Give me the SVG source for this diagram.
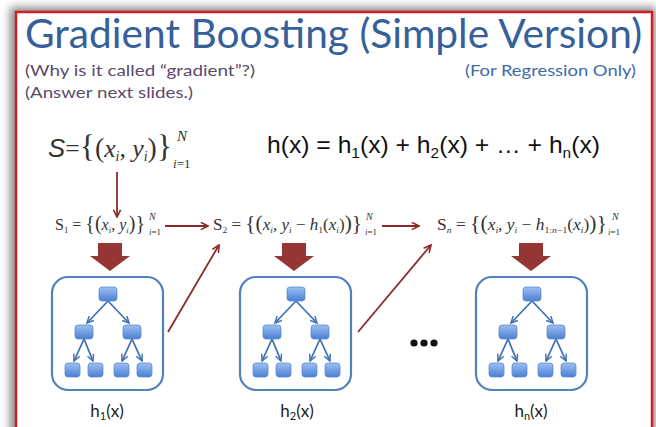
<svg xmlns="http://www.w3.org/2000/svg" xmlns:xlink="http://www.w3.org/1999/xlink" width="656" height="427" viewBox="0 0 656 427">
<defs>
<style>
.title{font-family:Lato,"Open Sans","Liberation Sans",sans-serif;fill:#36609a;}
.sub{font-family:Lato,"Open Sans","Liberation Sans",sans-serif;font-size:16px;}
.math{font-family:"Liberation Serif","DejaVu Serif",serif;fill:#333;}
.it{font-style:italic;}
.br{font-size:20px;}
.eq{font-family:"Liberation Sans",Arial,sans-serif;fill:#111;}
.lbl{font-family:Lato,"Open Sans","Liberation Sans",sans-serif;font-size:17px;fill:#222;text-anchor:middle;}
.red{stroke:#8c2a2a;stroke-width:1.8;fill:none;marker-end:url(#rh);}
.blk{fill:#943634;}
.box{fill:#fff;stroke:#4f81bd;stroke-width:2.2;}
.tn{fill:url(#ng);stroke:#5b8bd0;stroke-width:0.8;}
.te{stroke:#3f72b5;stroke-width:1.8;fill:none;marker-end:url(#bh);}
</style>
<linearGradient id="ng" x1="0" y1="0" x2="0" y2="1">
<stop offset="0" stop-color="#9dc0f0"/>
<stop offset="1" stop-color="#4a7fd6"/>
</linearGradient>
<marker id="rh" viewBox="0 0 10 10" refX="9" refY="5" markerWidth="5" markerHeight="5" orient="auto" markerUnits="strokeWidth">
<path d="M1,1 L9,5 L1,9" fill="none" stroke="#8c2a2a" stroke-width="1.8"/>
</marker>
<marker id="bh" viewBox="0 0 10 10" refX="9" refY="5" markerWidth="4.5" markerHeight="4.5" orient="auto" markerUnits="strokeWidth">
<path d="M1,1 L9,5 L1,9" fill="none" stroke="#3f72b5" stroke-width="1.8"/>
</marker>
<filter id="sh" x="-10%" y="-10%" width="120%" height="120%">
<feGaussianBlur stdDeviation="4"/>
</filter>
<g id="tree">
<rect class="box" x="0" y="0" width="111" height="113" rx="16"/>
<path class="te" d="M56,24 L35,46"/>
<path class="te" d="M56,24 L77,46"/>
<path class="te" d="M32,62 L22,84"/>
<path class="te" d="M32,62 L41,84"/>
<path class="te" d="M80,62 L70,84"/>
<path class="te" d="M80,62 L90,84"/>
<rect class="tn" x="47" y="10" width="18" height="14" rx="3"/>
<rect class="tn" x="23" y="48" width="18" height="14" rx="3"/>
<rect class="tn" x="71" y="48" width="18" height="14" rx="3"/>
<rect class="tn" x="13" y="86" width="15" height="14" rx="3"/>
<rect class="tn" x="36" y="86" width="15" height="14" rx="3"/>
<rect class="tn" x="62" y="86" width="15" height="14" rx="3"/>
<rect class="tn" x="85" y="86" width="15" height="14" rx="3"/>
</g>
</defs>

<rect x="0" y="0" width="656" height="427" fill="#fff"/>
<rect x="10" y="7" width="646" height="440" fill="#8a8a8a" filter="url(#sh)"/>
<rect x="16" y="12" width="636" height="430" fill="#fff" stroke="#d21f26" stroke-width="2.5"/>

<text class="title" x="25" y="48" font-size="41" textLength="617" lengthAdjust="spacingAndGlyphs">Gradient Boosting (Simple Version)</text>
<text class="sub" x="25" y="76" fill="#5a4a6b" textLength="230" lengthAdjust="spacingAndGlyphs">(Why is it called “gradient”?)</text>
<text class="sub" x="25" y="98" fill="#5a4a6b" textLength="168" lengthAdjust="spacingAndGlyphs">(Answer next slides.)</text>
<text class="sub" x="465" y="76" fill="#3e6aa8" textLength="171" lengthAdjust="spacingAndGlyphs">(For Regression Only)</text>

<g id="formula-S">
<text class="math" x="48" y="157" font-size="26" fill="#111" textLength="124" lengthAdjust="spacingAndGlyphs"><tspan class="it" font-family="Liberation Sans,sans-serif">S</tspan>=<tspan font-size="32">{</tspan><tspan font-size="28">(</tspan><tspan class="it">x</tspan><tspan class="it" font-size="14" dy="4">i</tspan><tspan dy="-4">, </tspan><tspan class="it">y</tspan><tspan class="it" font-size="14" dy="4">i</tspan><tspan dy="-4" font-size="28">)</tspan><tspan font-size="32">}</tspan></text>
<text class="math it" x="177" y="141" font-size="15" fill="#111">N</text>
<text class="math" x="173" y="168" font-size="13" fill="#111"><tspan class="it">i</tspan>=1</text>
</g>

<text class="eq" x="267" y="153" font-size="24" textLength="333" lengthAdjust="spacingAndGlyphs">h(x) = h<tspan font-size="15" dy="5">1</tspan><tspan dy="-5">(x) + h</tspan><tspan font-size="15" dy="5">2</tspan><tspan dy="-5">(x)  + … + h</tspan><tspan font-size="15" dy="5">n</tspan><tspan dy="-5">(x)</tspan></text>

<g id="S1">
<text class="math" x="55" y="230" font-size="16" textLength="90" lengthAdjust="spacingAndGlyphs">S<tspan font-size="9" dy="3">1</tspan><tspan dy="-3"> = </tspan><tspan class="br">{(</tspan><tspan class="it">x</tspan><tspan class="it" font-size="9" dy="3">i</tspan><tspan dy="-3">, </tspan><tspan class="it">y</tspan><tspan class="it" font-size="9" dy="3">i</tspan><tspan dy="-3" class="br">)}</tspan></text>
<text class="math it" x="149" y="220" font-size="10">N</text>
<text class="math" x="149" y="235" font-size="9"><tspan class="it">i</tspan>=1</text>
</g>

<g id="S2">
<text class="math" x="213" y="230" font-size="16" textLength="149" lengthAdjust="spacingAndGlyphs">S<tspan font-size="9" dy="3">2</tspan><tspan dy="-3"> = </tspan><tspan class="br">{(</tspan><tspan class="it">x</tspan><tspan class="it" font-size="9" dy="3">i</tspan><tspan dy="-3">, </tspan><tspan class="it">y</tspan><tspan class="it" font-size="9" dy="3">i</tspan><tspan dy="-3"> − </tspan><tspan class="it">h</tspan><tspan font-size="9" dy="3">1</tspan><tspan dy="-3">(</tspan><tspan class="it">x</tspan><tspan class="it" font-size="9" dy="3">i</tspan><tspan dy="-3">)</tspan><tspan class="br">)}</tspan></text>
<text class="math it" x="366" y="220" font-size="10">N</text>
<text class="math" x="365" y="235" font-size="9"><tspan class="it">i</tspan>=1</text>
</g>

<g id="Sn">
<text class="math" x="437" y="230" font-size="16" textLength="170" lengthAdjust="spacingAndGlyphs">S<tspan class="it" font-size="9" dy="3">n</tspan><tspan dy="-3"> = </tspan><tspan class="br">{(</tspan><tspan class="it">x</tspan><tspan class="it" font-size="9" dy="3">i</tspan><tspan dy="-3">, </tspan><tspan class="it">y</tspan><tspan class="it" font-size="9" dy="3">i</tspan><tspan dy="-3"> − </tspan><tspan class="it">h</tspan><tspan font-size="9" dy="3">1:<tspan class="it">n</tspan>−1</tspan><tspan dy="-3">(</tspan><tspan class="it">x</tspan><tspan class="it" font-size="9" dy="3">i</tspan><tspan dy="-3">)</tspan><tspan class="br">)}</tspan></text>
<text class="math it" x="612" y="220" font-size="10">N</text>
<text class="math" x="608" y="235" font-size="9"><tspan class="it">i</tspan>=1</text>
</g>

<g id="connectors">
<path class="red" d="M117,172 L117,217"/>
<path class="red" d="M165,226 L208,226"/>
<path class="red" d="M382,226 L419,226"/>
<path class="red" d="M168,332 L219,245"/>
<path class="red" d="M358,332 L431,245"/>
<path class="blk" d="M98,243 H122 V256 H130 L110,271 L90,256 H98 Z"/>
<path class="blk" d="M282,243 H306 V256 H314 L294,271 L274,256 H282 Z"/>
<path class="blk" d="M519,243 H543 V256 H551 L531,271 L511,256 H519 Z"/>
</g>

<g id="h1">
<use xlink:href="#tree" href="#tree" x="52" y="277"/>
<text class="lbl" x="107" y="417">h<tspan font-size="11" dy="3">1</tspan><tspan dy="-3">(x)</tspan></text>
</g>
<g id="h2">
<use xlink:href="#tree" href="#tree" x="240" y="277"/>
<text class="lbl" x="297" y="417">h<tspan font-size="11" dy="3">2</tspan><tspan dy="-3">(x)</tspan></text>
</g>
<g id="hn">
<use xlink:href="#tree" href="#tree" x="476" y="277"/>
<text class="lbl" x="531" y="417">h<tspan font-size="11" dy="3">n</tspan><tspan dy="-3">(x)</tspan></text>
</g>

<g id="ellipsis">
<circle cx="414" cy="343" r="3.6" fill="#111"/>
<circle cx="424" cy="343" r="3.6" fill="#111"/>
<circle cx="434" cy="343" r="3.6" fill="#111"/>
</g>
</svg>
